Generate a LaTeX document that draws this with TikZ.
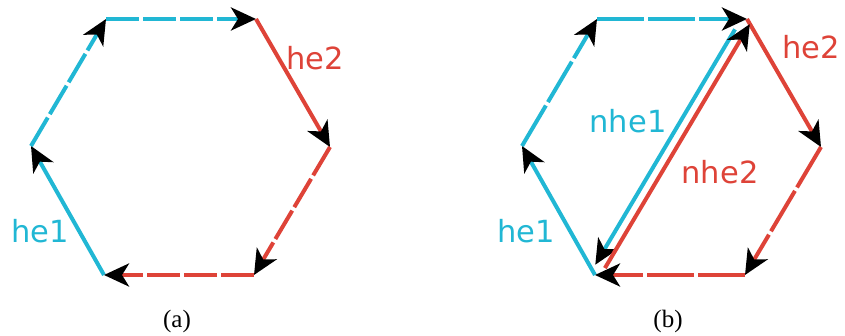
\documentclass[tikz,border=0pt]{standalone}
\usepackage{fontspec}
\setmainfont{Liberation Serif}
\newfontfamily\labfont{DejaVu Sans}
\usetikzlibrary{arrows.meta,calc}
\definecolor{cy}{RGB}{33,183,212}
\definecolor{rd}{RGB}{222,67,56}
\begin{document}
\begin{tikzpicture}[x=1pt,y=-1pt,
  edge/.style={line width=4pt, -{Stealth[length=25pt,width=23pt,inset=7pt,color=black]}},
  cyedge/.style={edge, draw=cy},
  rdedge/.style={edge, draw=rd},
  dsa/.style={dash pattern=on 33pt off 4pt},
  dsb/.style={dash pattern=on 47pt off 4pt},
  lab/.style={font=\labfont\fontsize{30.5}{32}\selectfont, inner sep=0pt},
  captext/.style={font=\fontsize{25}{26}\selectfont, inner sep=0pt}]
\useasboundingbox (0,0) rectangle (845,336);
% hexagon (a)
\coordinate (aTL) at (106,19);
\coordinate (aTR) at (256,19);
\coordinate (aR)  at (330,147);
\coordinate (aBR) at (254,275);
\coordinate (aBL) at (104,275);
\coordinate (aL)  at (31,146);
% hexagon (b)
\coordinate (bTL) at (597,19);
\coordinate (bTR) at (747,19);
\coordinate (bR)  at (821,147);
\coordinate (bBR) at (745,275);
\coordinate (bBL) at (595,275);
\coordinate (bL)  at (522,146);
% (a) edges
\draw[cyedge] (aBL) -- (aL);
\draw[cyedge,dsa] (aL) -- (aTL);
\draw[cyedge,dsa] (aTL) -- (aTR);
\draw[rdedge] (aTR) -- (aR);
\draw[rdedge,dsa] (aR) -- (aBR);
\draw[rdedge,dsa] (aBR) -- (aBL);
% (b) edges
\draw[cyedge] (bBL) -- (bL);
\draw[cyedge,dsb] (bL) -- (bTL);
\draw[cyedge,dsb] (bTL) -- (bTR);
\draw[rdedge] (bTR) -- (bR);
\draw[rdedge,dsb] (bR) -- (bBR);
\draw[rdedge,dsb] (bBR) -- (bBL);
% diagonals
\coordinate (c1) at ($(bTR)!5pt!-90:(bBL)$);
\coordinate (c2) at ($(bBL)!5pt!90:(bTR)$);
\coordinate (r1) at ($(bBL)!5pt!-90:(bTR)$);
\coordinate (r2) at ($(bTR)!5pt!90:(bBL)$);
\draw[cyedge, shorten <=15pt, shorten >=9pt] (c1) -- (c2);
\draw[rdedge, shorten <=11pt, shorten >=3pt] (r1) -- (r2);
% labels
\node[lab, text=cy] (la1) at (40,231) {he1};
\node[lab, text=rd] (la2) at (315,58) {he2};
\node[lab, text=cy] (lb1) at (526,231) {he1};
\node[lab, text=rd] (lb2) at (811,47) {he2};
\node[lab, text=cy] (lbn1) at (628,121) {nhe1};
\node[lab, text=rd] (lbn2) at (720,172) {nhe2};
\node[captext] (capa) at (177,321) {(a)};
\node[captext] (capb) at (668,321) {(b)};
\end{tikzpicture}
\end{document}
